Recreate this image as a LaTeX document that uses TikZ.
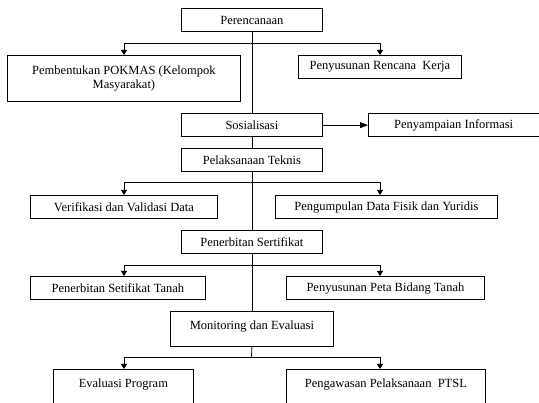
\documentclass[tikz,border=0pt]{standalone}
\usepackage{fontspec}
\setmainfont{Liberation Serif}
\usetikzlibrary{arrows.meta}
\begin{document}
\begin{tikzpicture}[x=1pt,y=-1pt,
 box/.style={draw, line width=0.8pt, inner sep=0pt, anchor=north west, align=center,
   font=\fontsize{12.5}{14.5}\selectfont},
 tall/.style={text depth=7pt},
 link/.style={line width=0.8pt},
 arr/.style={line width=0.8pt, -{Triangle[length=5pt,width=6pt]}}]
\useasboundingbox (0,0) rectangle (539,403);
% boxes
\node[box, minimum width=141pt, minimum height=23.5pt] (per) at (181,8) {Perencanaan};
\node[box, minimum width=233pt, minimum height=46.5pt] (pemb) at (7,55) {Pembentukan POKMAS (Kelompok\\Masyarakat)};
\node[box, minimum width=163pt, minimum height=23.5pt] (ren) at (298,55) {Penyusunan Rencana\ \ Kerja};
\node[box, minimum width=141pt, minimum height=23.5pt] (sos) at (181,113) {Sosialisasi};
\node[box, minimum width=170.5pt, minimum height=23.5pt] (inf) at (368,113) {Penyampaian Informasi};
\node[box, minimum width=141pt, minimum height=23.5pt] (pel) at (181,148) {Pelaksanaan Teknis};
\node[box, minimum width=187pt, minimum height=23.5pt] (ver) at (30,195) {Verifikasi dan Validasi Data};
\node[box, minimum width=222pt, minimum height=23.5pt] (peng) at (275,195) {Pengumpulan Data Fisik dan Yuridis};
\node[box, minimum width=141pt, minimum height=23.5pt] (pen) at (181,230) {Penerbitan Sertifikat};
\node[box, minimum width=175pt, minimum height=23.5pt] (pst) at (30,276) {Penerbitan Setifikat Tanah};
\node[box, minimum width=198pt, minimum height=23.5pt] (peta) at (286,276) {Penyusunan Peta Bidang Tanah};
\node[box, tall, minimum width=163pt, minimum height=35pt] (mon) at (170,311) {Monitoring dan Evaluasi};
\node[box, tall, minimum width=140pt, minimum height=35.5pt] (eva) at (53,369) {Evaluasi Program};
\node[box, tall, minimum width=199pt, minimum height=35.5pt] (paw) at (286,369) {Pengawasan Pelaksanaan\ \ PTSL};
% branch points
\coordinate (b1) at (251.5,43.3);  \coordinate (b1l) at (124,43.3);  \coordinate (b1r) at (380,43.3);
\coordinate (b2) at (251.5,182.7); \coordinate (b2l) at (124,182.7); \coordinate (b2r) at (380,182.7);
\coordinate (b3) at (251.5,265);   \coordinate (b3l) at (124,265);   \coordinate (b3r) at (380,265);
\coordinate (b4) at (251.5,357.3); \coordinate (b4l) at (124,357.3); \coordinate (b4r) at (380,357.3);
% trunk
\draw[link] (per.south) -- (sos.north);
\draw[link] (sos.south) -- (pel.north);
\draw[link] (pel.south) -- (pen.north);
\draw[link] (pen.south) -- (mon.north);
\draw[link] (mon.south) -- (b4);
% branches
\draw[arr] (b1) -- (b1l) -- (b1l |- pemb.north);
\draw[arr] (b1) -- (b1r) -- (b1r |- ren.north);
\draw[arr] (b2) -- (b2l) -- (b2l |- ver.north);
\draw[arr] (b2) -- (b2r) -- (b2r |- peng.north);
\draw[arr] (b3) -- (b3l) -- (b3l |- pst.north);
\draw[arr] (b3) -- (b3r) -- (b3r |- peta.north);
\draw[arr] (b4) -- (b4l) -- (b4l |- eva.north);
\draw[arr] (b4) -- (b4r) -- (b4r |- paw.north);
\draw[line width=0.8pt, -{Triangle[length=8pt,width=6pt]}] (sos.east) -- (inf.west);
\end{tikzpicture}
\end{document}
